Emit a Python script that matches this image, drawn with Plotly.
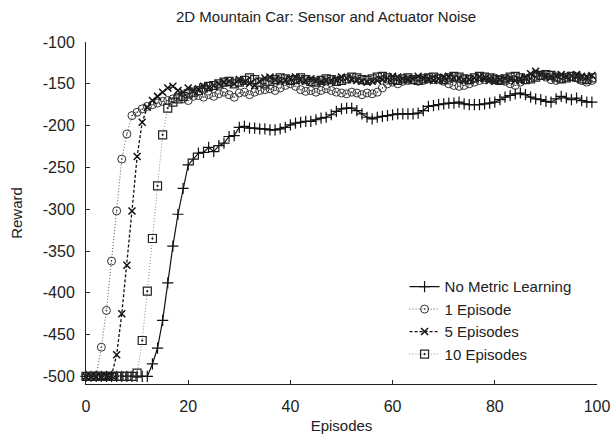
import plotly.graph_objects as go

episodes = list(range(100))

no_metric = [-500]*13 + [
    -485, -466, -433, -388, -344, -306, -275, -247, -240, -233,
    -232, -226, -231, -224, -221, -213, -212, -202, -201, -203,
    -203, -204, -204, -205, -205, -204, -202, -199, -197, -196,
    -195, -195, -193, -191, -190, -187, -183, -180, -179, -179,
    -182, -186, -190, -192, -190, -189, -188, -187, -186, -186,
    -186, -186, -185, -182, -177, -176, -175, -174, -173, -173,
    -172, -174, -175, -175, -175, -174, -173, -172, -169, -166,
    -164, -162, -161, -163, -166, -168, -169, -171, -172, -168,
    -165, -167, -169, -167, -170, -172, -172]

one_episode = [
    -500, -500, -499, -465, -421, -362, -302, -240, -210, -188,
    -184, -180, -177, -175, -173, -171, -170, -168, -166, -168,
    -170, -165, -164, -166, -163, -165, -162, -160, -163, -166,
    -161, -160, -163, -160, -158, -157, -156, -158, -155, -152,
    -150, -153, -157, -159, -158, -160, -158, -156, -158, -160,
    -161, -162, -160, -161, -163, -161, -162, -160, -155, -150,
    -148, -150, -147, -146, -145, -147, -146, -144, -145, -143,
    -147, -150, -152, -153, -152, -150, -148, -146, -145, -144,
    -143, -145, -147, -150, -152, -148, -145, -143, -141, -140,
    -142, -145, -146, -144, -142, -141, -143, -146, -148, -146]

five_episodes = [
    -500, -500, -500, -500, -500, -499, -474, -425, -367, -302,
    -237, -196, -178, -170, -165, -160, -155, -153, -158, -160,
    -155, -158, -156, -153, -155, -152, -150, -148, -147, -150,
    -145, -148, -150, -152, -147, -143, -142, -145, -147, -146,
    -144, -142, -145, -147, -144, -146, -148, -146, -147, -145,
    -142, -143, -145, -146, -147, -148, -147, -146, -145, -143,
    -141, -142, -144, -145, -143, -141, -143, -145, -146, -144,
    -142, -141, -143, -144, -146, -145, -143, -142, -144, -146,
    -147, -145, -143, -144, -146, -145, -142, -138, -135, -138,
    -141, -142, -140, -139, -141, -140, -139, -141, -142, -140]

ten_episodes = [
    -500, -500, -500, -500, -500, -500, -500, -500, -500, -500,
    -496, -457, -398, -335, -272, -211, -179, -172, -168, -165,
    -162, -160, -158, -155, -153, -152, -150, -148, -147, -150,
    -148, -146, -143, -145, -148, -150, -147, -145, -143, -144,
    -146, -145, -143, -145, -147, -148, -146, -144, -145, -147,
    -146, -144, -142, -143, -145, -146, -144, -142, -141, -143,
    -145, -146, -144, -143, -145, -146, -144, -143, -142, -144,
    -145, -143, -141, -142, -144, -145, -143, -141, -142, -143,
    -145, -146, -144, -142, -141, -143, -145, -144, -142, -140,
    -139, -140, -142, -144, -143, -141, -142, -144, -145, -143]

series_names = ["No Metric Learning", "1 Episode", "5 Episodes", "10 Episodes"]
x_ticks = [0, 20, 40, 60, 80, 100]
y_ticks = [-500, -450, -400, -350, -300, -250, -200, -150, -100]
y_tick_labels = ["-500", "-450", "-400", "-350", "-300", "-250", "-200", "-150", "-100"]

FONT = "Liberation Sans, Arial, Helvetica, sans-serif"

styles = [
    dict(line=dict(color="#111111", width=1.2, dash="solid"),
         marker=dict(symbol="cross-thin", size=8, line=dict(color="#111111", width=1.2))),
    dict(line=dict(color="#555555", width=1, dash="1px,2px"),
         marker=dict(symbol="circle-open-dot", size=8, color="#333333", line=dict(color="#333333", width=1))),
    dict(line=dict(color="#111111", width=1.3, dash="3px,2px"),
         marker=dict(symbol="x-thin", size=7, line=dict(color="#111111", width=1.5))),
    dict(line=dict(color="#888888", width=1, dash="1px,2px"),
         marker=dict(symbol="square-open-dot", size=8, color="#222222", line=dict(color="#222222", width=1.2))),
]

fig = go.Figure()
for name, vals, st in zip(series_names, [no_metric, one_episode, five_episodes, ten_episodes], styles):
    fig.add_trace(go.Scatter(x=episodes, y=vals, mode="lines+markers", name=name,
                             line=st["line"], marker=st["marker"], cliponaxis=False))

fig.update_layout(
    width=613, height=437,
    margin=dict(l=86, r=16, t=42, b=53),
    paper_bgcolor="white", plot_bgcolor="white",
    font=dict(family=FONT, size=15, color="#222222"),
    title=dict(text="2D Mountain Car: Sensor and Actuator Noise",
               x=0.532, xanchor="center", y=0.962, yanchor="middle",
               font=dict(size=15, color="#222222")),
    showlegend=True,
    legend=dict(x=0.96, xanchor="right", y=0.04, yanchor="bottom",
                bgcolor="rgba(0,0,0,0)", font=dict(size=15),
                tracegroupgap=0),
)
fig.update_xaxes(range=[0, 100], tickvals=x_ticks, showgrid=False, zeroline=False,
                 showline=True, linecolor="#222222", linewidth=1, ticks="inside",
                 ticklen=4, tickcolor="#222222", mirror=False, automargin=False,
                 ticklabelstandoff=8,
                 title=dict(text="Episodes", font=dict(size=15), standoff=6),
                 tickfont=dict(size=16))
fig.update_yaxes(range=[-509, -100], tickvals=y_ticks, ticktext=y_tick_labels,
                 showgrid=False, zeroline=False,
                 showline=True, linecolor="#222222", linewidth=1, ticks="inside",
                 ticklen=4, tickcolor="#222222", mirror=False, automargin=False,
                 ticklabelstandoff=7,
                 title=dict(text="Reward", font=dict(size=15), standoff=16),
                 tickfont=dict(size=16))

fig.write_html("out.html", config={"displayModeBar": False},
               post_script="document.body.style.margin='0';")
